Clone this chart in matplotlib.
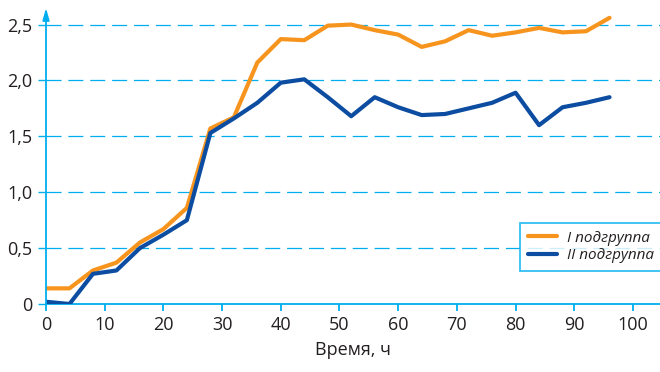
# -*- coding: utf-8 -*-
import numpy as np
import matplotlib
matplotlib.use('Agg')
import matplotlib.pyplot as plt
from matplotlib.ticker import FuncFormatter

plt.rcParams['font.family'] = ['Open Sans', 'DejaVu Sans']

# время, ч
hours = [0, 4, 8, 12, 16, 20, 24, 28, 32, 36, 40, 44, 48,
         52, 56, 60, 64, 68, 72, 76, 80, 84, 88, 92, 96]
# I подгруппа
group1 = [0.14, 0.14, 0.30, 0.37, 0.55, 0.67, 0.86, 1.57, 1.67, 2.16, 2.37, 2.36, 2.49,
          2.50, 2.45, 2.41, 2.30, 2.35, 2.45, 2.40, 2.43, 2.47, 2.43, 2.44, 2.56]
# II подгруппа
group2 = [0.02, 0.0, 0.27, 0.30, 0.50, 0.62, 0.75, 1.53, 1.66, 1.80, 1.98, 2.01, 1.85,
          1.68, 1.85, 1.76, 1.69, 1.70, 1.75, 1.80, 1.89, 1.60, 1.76, 1.80, 1.85]
labels = ['I подгруппа', 'II подгруппа']
x_ticks = list(range(0, 101, 10))
y_ticks = [0, 0.5, 1.0, 1.5, 2.0, 2.5]

CYAN = '#00AEEF'
ORANGE = '#F7941D'
BLUE = '#0C4DA2'
TEXT = '#231F20'

fig = plt.figure(figsize=(6.6, 3.72), dpi=100)
ax = fig.add_axes([46/660, 68/372, 614/660, 296/372])

ax.plot(hours, group1, color=ORANGE, lw=3, label=labels[0], solid_capstyle='round', zorder=3)
ax.plot(hours, group2, color=BLUE, lw=3, label=labels[1], solid_capstyle='round', zorder=3)

ax.set_xlim(0, 104.6)
ax.set_ylim(0, 2.648)
ax.set_xticks(x_ticks)
ax.set_yticks(y_ticks)
ax.yaxis.set_major_formatter(FuncFormatter(lambda v, p: '0' if v == 0 else f'{v:.1f}'.replace('.', ',')))

# пунктирная сетка
for y in y_ticks[1:]:
    ax.axhline(y, color=CYAN, lw=0.9, linestyle=(0, (12, 5.5)), zorder=1)

for s in ['top', 'right', 'left']:
    ax.spines[s].set_visible(False)
ax.spines['bottom'].set_color(CYAN)
ax.spines['bottom'].set_linewidth(1.3)
ax.annotate('', xy=(0, 1), xytext=(0, 0), xycoords='axes fraction',
            arrowprops=dict(arrowstyle='-|>,head_length=0.7,head_width=0.2', color=CYAN,
                            lw=1.3, shrinkA=0, shrinkB=0))

ax.tick_params(axis='x', colors=CYAN, direction='out', length=5, width=1.3,
               labelcolor=TEXT, labelsize=13, pad=4)
ax.tick_params(axis='y', colors=CYAN, direction='out', length=6, width=1.0,
               labelcolor=TEXT, labelsize=13, pad=4)

ax.set_xlabel('Время, ч', fontsize=13, color=TEXT, labelpad=5)

leg = ax.legend(loc='upper left', bbox_to_anchor=(520/660, 1 - 223/372), bbox_transform=fig.transFigure,
                borderaxespad=0, frameon=True, fancybox=False, handlelength=1.9,
                prop={'style': 'italic', 'size': 11}, labelspacing=0.15, borderpad=0.5,
                handletextpad=0.7)
leg.get_frame().set_edgecolor(CYAN)
leg.get_frame().set_linewidth(1.3)
for t in leg.get_texts():
    t.set_color(TEXT)

fig.savefig('out.png', dpi=100)
